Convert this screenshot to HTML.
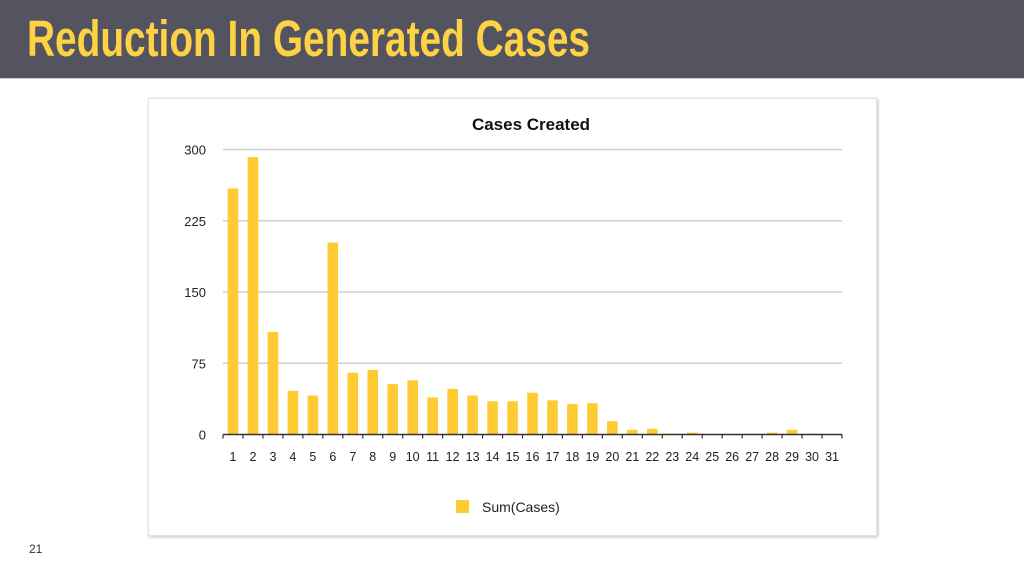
<!DOCTYPE html>
<html><head><meta charset="utf-8"><style>
body{margin:0;width:1024px;height:576px;background:#fff;position:relative;overflow:hidden;font-family:"Liberation Sans",sans-serif}
#hdr{position:absolute;left:0;top:0;width:1024px;height:78px;background:#545460;border-bottom:1px solid #c8c8cc}
#ttl{position:absolute;left:27px;top:13px;font-size:51px;font-weight:bold;color:#fdd245;white-space:nowrap;transform-origin:0 0;line-height:1}
#panel{position:absolute;left:148px;top:98px;width:727px;height:436px;border:1px solid #e2e2e2;box-shadow:1px 1px 3px rgba(0,0,0,.25);background:#fff}
#pg{position:absolute;left:29px;top:542px;font-size:12px;color:#333}
</style></head><body>
<div id="hdr"><div id="ttl">Reduction In Generated Cases</div></div>
<div id="panel"></div>
<svg id="chart" width="1024" height="576" style="position:absolute;left:0;top:0"></svg>
<div id="pg">21</div>
<script>
const categories=["1","2","3","4","5","6","7","8","9","10","11","12","13","14","15","16","17","18","19","20","21","22","23","24","25","26","27","28","29","30","31"];
const values=[259,292,108,46,41,202,65,68,53,57,39,48,41,35,35,44,36,32,33,14,5,6,1,2,0,0,1,2,5,1,0];
const yTicks=[0,75,150,225,300];
const seriesName="Sum(Cases)";
const chartTitle="Cases Created";

const t=document.getElementById('ttl');
t.style.transform='scaleX('+(563/t.getBoundingClientRect().width)+')';

const svg=document.getElementById('chart');const NS='http://www.w3.org/2000/svg';
function mk(tag,a,txt){const e=document.createElementNS(NS,tag);for(const k in a)e.setAttribute(k,a[k]);if(txt!=null)e.textContent=txt;svg.appendChild(e);return e;}
const x0=223,x1=842,yB=434.5,yT=149.5,vMax=300;
const step=(x1-x0)/categories.length;
const y=v=>yB-(v/vMax)*(yB-yT);
const xc=i=>x0+step*(i+0.5);
let e=mk('text',{x:531,y:130,'text-anchor':'middle','font-size':17,'font-weight':'bold',fill:'#111'},chartTitle);


yTicks.forEach(v=>{
 if(v>0){e=mk('line',{x1:x0,x2:x1,y1:y(v),y2:y(v),stroke:'#d0d0d0','stroke-width':1.5});
 
 }
 e=mk('text',{x:206,y:y(v)+5,'text-anchor':'end','font-size':13,fill:'#222'},String(v));
 
 
});
values.forEach((v,i)=>{
 e=mk('rect',{x:xc(i)-5.3,y:y(v),width:10.6,height:yB-y(v),fill:'#fecc32'});
 
 
 e=mk('text',{x:xc(i),y:461,'text-anchor':'middle','font-size':12.5,fill:'#222'},categories[i]);
 
 
});
e=mk('line',{x1:x0,x2:x1,y1:yB,y2:yB,stroke:'#333','stroke-width':1.5});


for(let i=0;i<=categories.length;i++){
 e=mk('line',{x1:x0+step*i,x2:x0+step*i,y1:yB,y2:yB+4,stroke:'#333','stroke-width':1.2});
 
 
}
e=mk('rect',{x:456,y:500,width:13,height:13,fill:'#fecc32'});


e=mk('text',{x:482,y:512,'font-size':14,fill:'#222'},seriesName);


</script>
</body></html>
